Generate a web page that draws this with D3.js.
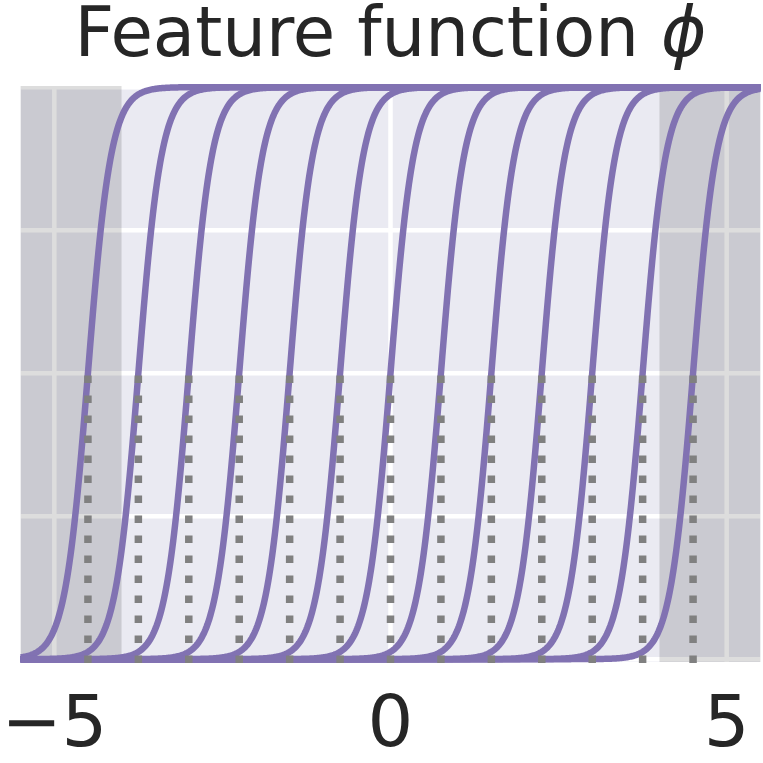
<!DOCTYPE html>
<html>
 <head>
    <title>Feature function</title>
    <script src="https://d3js.org/d3.v7.min.js"></script>
    <style>
      body { margin: 0; background: #fff; }
      text { font-family: "DejaVu Sans", sans-serif; fill: #262626; }
    </style>
 </head>
 <body>
    <div id="chart"></div>
    <script>
      // centres of the sigmoid features (dotted lines mark them)
      var centers = [-4.5, -3.75, -3, -2.25, -1.5, -0.75, 0, 0.75, 1.5, 2.25, 3, 3.75, 4.5];
      // steepness of each feature
      var slope = 5.8;
      // shaded regions outside the data range
      var shaded = [[-5.5, -4], [4, 5.5]];
      var xTicks = [-5, 0, 5];
      var yGrid = [0, 0.25, 0.5, 0.75, 1];

      var width = 763, height = 763;

      var x = d3.scaleLinear().domain([-5.5, 5.5]).range([20.7, 760.3]);
      var y = d3.scaleLinear().domain([-0.005, 1.002]).range([662, 86]);

      var svg = d3.select("#chart")
        .append("svg")
        .attr("width", width)
        .attr("height", height);

      // axes background
      svg.append("rect")
        .attr("x", x(-5.5))
        .attr("y", y(1.002))
        .attr("width", x(5.5) - x(-5.5))
        .attr("height", y(-0.005) - y(1.002))
        .attr("fill", "#EAEAF2");

      // grid
      svg.selectAll(".vgrid")
        .data(xTicks)
        .enter()
        .append("line")
        .attr("x1", function (d) { return x(d); })
        .attr("x2", function (d) { return x(d); })
        .attr("y1", y(-0.005))
        .attr("y2", y(1.002))
        .attr("stroke", "#fff")
        .attr("stroke-width", 4.5);

      svg.selectAll(".hgrid")
        .data(yGrid)
        .enter()
        .append("line")
        .attr("x1", x(-5.5))
        .attr("x2", x(5.5))
        .attr("y1", function (d) { return y(d); })
        .attr("y2", function (d) { return y(d); })
        .attr("stroke", "#fff")
        .attr("stroke-width", 4.5);

      // shaded regions
      svg.selectAll(".shade")
        .data(shaded)
        .enter()
        .append("rect")
        .attr("x", function (d) { return x(d[0]); })
        .attr("y", y(1.002))
        .attr("width", function (d) { return x(d[1]) - x(d[0]); })
        .attr("height", y(-0.005) - y(1.002))
        .attr("fill", "#000")
        .attr("fill-opacity", 0.135);

      // sigmoid curves
      var xs = d3.range(0, 801).map(function (i) { return -5.5 + i * 11 / 800; });
      var line = d3.line()
        .x(function (d) { return x(d[0]); })
        .y(function (d) { return y(d[1]); });

      svg.selectAll(".curve")
        .data(centers)
        .enter()
        .append("path")
        .attr("d", function (c) {
          return line(xs.map(function (v) { return [v, 1 / (1 + Math.exp(-slope * (v - c)))]; }));
        })
        .attr("fill", "none")
        .attr("stroke", "#8172B2")
        .attr("stroke-width", 6.5);

      // dotted markers from 0 up to 0.5
      svg.selectAll(".marker")
        .data(centers)
        .enter()
        .append("line")
        .attr("x1", function (d) { return x(d); })
        .attr("x2", function (d) { return x(d); })
        .attr("y1", y(0) + 3.75)
        .attr("y2", y(0.5))
        .attr("stroke", "#808080")
        .attr("stroke-width", 7.5)
        .attr("stroke-dasharray", "7.5,12.5");

      // tick labels
      svg.selectAll(".tick")
        .data(xTicks)
        .enter()
        .append("text")
        .attr("x", function (d) { return x(d); })
        .attr("y", 746)
        .attr("text-anchor", "middle")
        .style("font-size", "72px")
        .text(function (d) { return d < 0 ? "\u2212" + Math.abs(d) : d; });

      // title
      var title = svg.append("text")
        .attr("x", (x(-5.5) + x(5.5)) / 2)
        .attr("y", 56)
        .attr("text-anchor", "middle")
        .style("font-size", "69px");
      title.append("tspan").text("Feature function ");
      title.append("tspan").style("font-style", "italic").text("\u03D5");
    </script>
 </body>
</html>
